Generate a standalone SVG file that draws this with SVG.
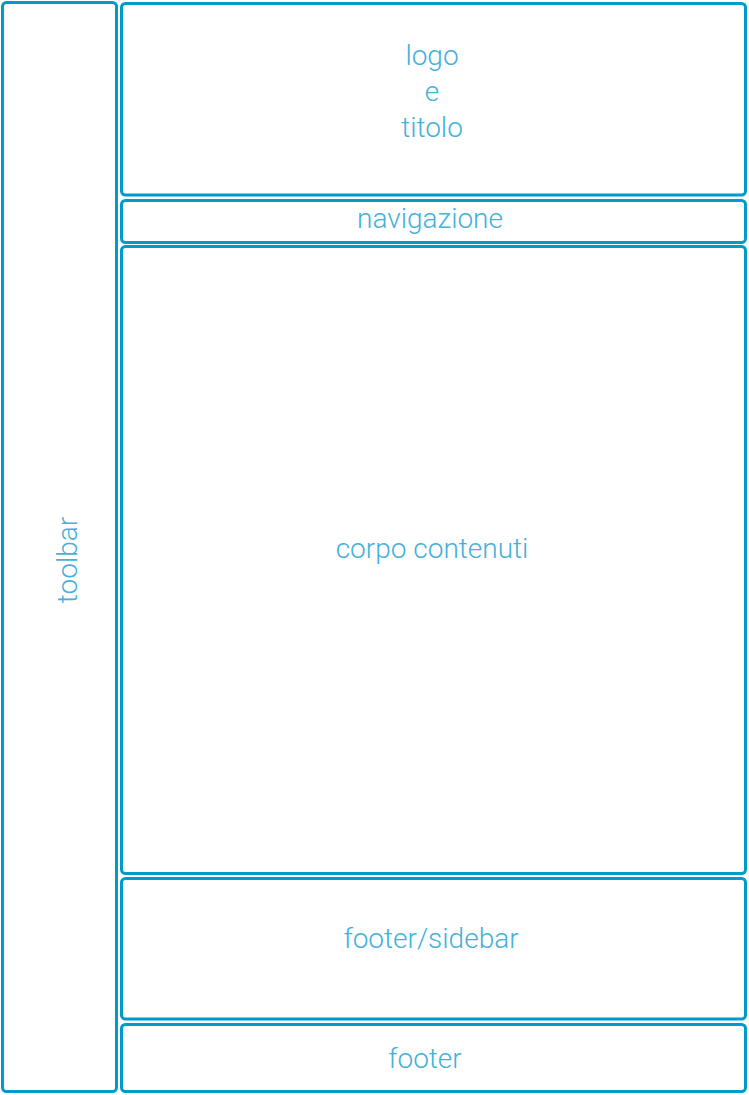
<svg xmlns="http://www.w3.org/2000/svg" width="749" height="1095" viewBox="0 0 749 1095">
<style>
.box{fill:#ffffff;stroke:#009acd;stroke-width:3}
.lbl{fill:#44b0dc;font-family:Roboto,"Open Sans","Liberation Sans",sans-serif;font-weight:300;font-size:28px;text-anchor:middle}
</style>
<rect width="749" height="1095" fill="#ffffff"/>
<g id="toolbar"><rect class="box" x="2.5" y="2.5" width="114" height="1089" rx="4"/><text class="lbl" transform="translate(77,560) rotate(-90)">toolbar</text></g>
<g id="logo"><rect class="box" x="121.5" y="3.5" width="624" height="191.5" rx="4"/><text class="lbl" x="432" y="65">logo</text><text class="lbl" x="432" y="101">e</text><text class="lbl" x="432" y="137">titolo</text></g>
<g id="navigazione"><rect class="box" x="121.5" y="200.5" width="624" height="42" rx="4"/><text class="lbl" x="430" y="228">navigazione</text></g>
<g id="corpo"><rect class="box" x="121.5" y="246.5" width="624" height="627" rx="4"/><text class="lbl" x="432" y="558">corpo contenuti</text></g>
<g id="footersidebar"><rect class="box" x="121.5" y="878.5" width="624" height="140.5" rx="4"/><text class="lbl" x="431" y="948">footer/sidebar</text></g>
<g id="footer"><rect class="box" x="121.5" y="1024.5" width="624" height="67" rx="4"/><text class="lbl" x="425" y="1068">footer</text></g>
<g id="connectors"/>
</svg>
